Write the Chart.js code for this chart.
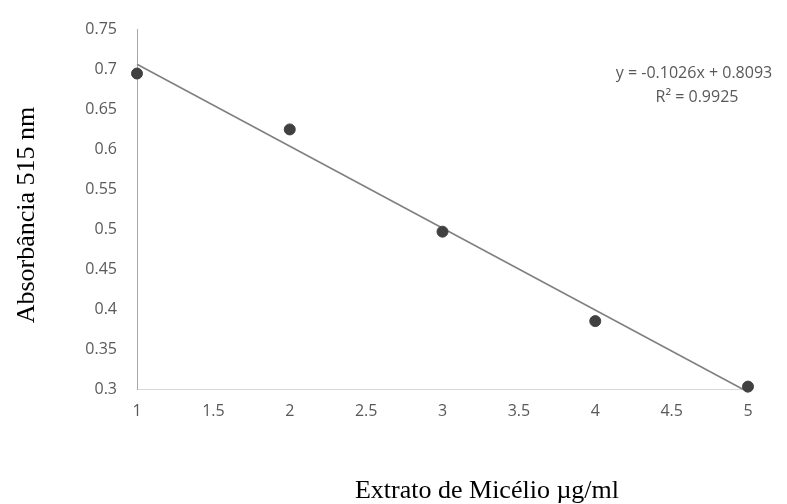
<!DOCTYPE html>
<html>
<head>
<meta charset="utf-8">
<script src="https://cdn.jsdelivr.net/npm/chart.js@4.4.1/dist/chart.umd.min.js"></script>
<style>
  html, body { margin: 0; padding: 0; background: #fff; }
  #wrap { width: 787px; height: 504px; }
</style>
</head>
<body>
<div id="wrap"><canvas id="chart" width="787" height="504"></canvas></div>
<script>
// Values
const concentrations = [1, 2, 3, 4, 5];
const absorbance = [0.695, 0.625, 0.497, 0.385, 0.303];

// Trendline ends (from the equation printed on the chart)
const trendX = [1, 5];
const trendY = [0.7067, 0.2963];

const xTicks = { min: 1, max: 5, step: 0.5 };
const yTicks = { min: 0.3, max: 0.75, step: 0.05 };

const equationLines = ['y = -0.1026x + 0.8093', 'R\u00B2 = 0.9925'];
const xTitle = 'Extrato de Mic\u00E9lio \u00B5g/ml';
const yTitle = 'Absorb\u00E2ncia 515 nm';

const pointData = concentrations.map((x, i) => ({ x: x, y: absorbance[i] }));
const trendData = trendX.map((x, i) => ({ x: x, y: trendY[i] }));

const labelColor = '#595959';
const tickFont = { family: '"Open Sans", sans-serif', size: 16 };

// draw the equation and the axis titles
const textPlugin = {
  id: 'texts',
  afterDraw(chart) {
    const ctx = chart.ctx;
    ctx.save();
    ctx.textAlign = 'center';
    ctx.textBaseline = 'middle';
    ctx.fillStyle = labelColor;
    ctx.font = '16px "Open Sans", sans-serif';
    ctx.fillText(equationLines[0], 694, 73);
    ctx.fillText(equationLines[1], 697, 97);

    ctx.fillStyle = '#000';
    ctx.font = '26px "Liberation Serif", serif';
    ctx.fillText(xTitle, 487, 491);
    ctx.translate(27, 215);
    ctx.rotate(-Math.PI / 2);
    ctx.fillText(yTitle, 0, 0);
    ctx.restore();
  }
};

const ctx = document.getElementById('chart').getContext('2d');
const chart = new Chart(ctx, {
  type: 'scatter',
  data: {
    datasets: [{
      label: 'Absorbância',
      data: pointData,
      backgroundColor: '#404040',
      borderColor: '#404040',
      pointRadius: 5.5,
      pointHoverRadius: 5.5,
      clip: false,
      order: 1
    }, {
      type: 'line',
      label: 'Linear',
      data: trendData,
      borderColor: '#808080',
      borderWidth: 1.6,
      pointRadius: 0,
      fill: false,
      clip: false,
      order: 2
    }]
  },
  options: {
    responsive: false,
    animation: false,
    layout: { padding: { top: 23, right: 39, left: 0, bottom: 0 } },
    plugins: {
      legend: { display: false },
      tooltip: { enabled: false }
    },
    scales: {
      x: {
        type: 'linear',
        min: xTicks.min,
        max: xTicks.max,
        grid: { display: false, drawTicks: false },
        border: { display: true, color: '#d9d9d9', width: 1 },
        ticks: {
          stepSize: xTicks.step,
          padding: 13,
          color: labelColor,
          font: tickFont,
          maxRotation: 0,
          callback: v => String(Number(v.toFixed(2)))
        },
        afterFit(scale) { scale.height = 115; }
      },
      y: {
        min: yTicks.min,
        max: yTicks.max,
        grid: { display: false, drawTicks: false },
        border: { display: true, color: '#a6a6a6', width: 1 },
        ticks: {
          stepSize: yTicks.step,
          padding: 20,
          color: labelColor,
          font: tickFont,
          callback: v => String(Number(v.toFixed(2)))
        },
        afterFit(scale) { scale.width = 137; }
      }
    }
  },
  plugins: [textPlugin]
});
</script>
</body>
</html>
